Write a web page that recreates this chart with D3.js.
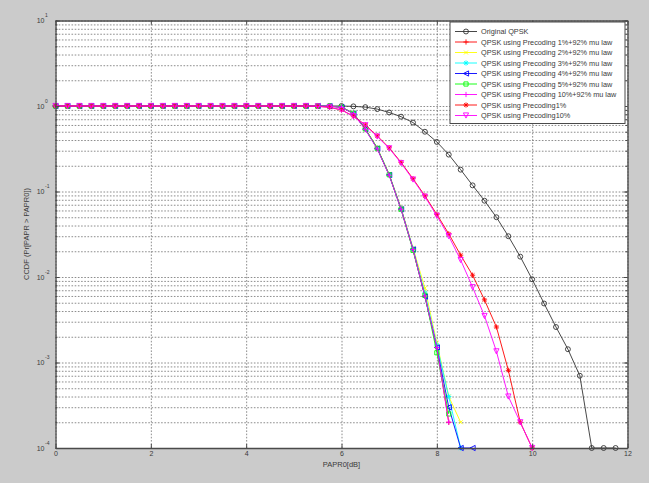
<!DOCTYPE html>
<html>
<head>
<meta charset="utf-8">
<script src="https://cdn.jsdelivr.net/npm/d3@7"></script>
<style>
  html, body { margin: 0; padding: 0; background: #cbcbcb; }
  svg { display: block; }
  text { font-family: "Liberation Sans", Arial, sans-serif; fill: #3a3a3a; }
</style>
</head>
<body>
<svg id="chart" width="649" height="483"></svg>
<script>
// PAPR0 thresholds in dB (0.25 dB steps)
const papr = [0,0.25,0.5,0.75,1,1.25,1.5,1.75,2,2.25,2.5,2.75,3,3.25,3.5,3.75,4,4.25,4.5,4.75,
  5,5.25,5.5,5.75,6,6.25,6.5,6.75,7,7.25,7.5,7.75,8,8.25,8.5,8.75,9,9.25,9.5,9.75,
  10,10.25,10.5,10.75,11,11.25,11.5,11.75,12];

// CCDF values, one array per scheme (missing tail = probability 0, not drawn on a log axis)
const ccdfOriginal = [1,1,1,1,1, 1,1,1,1,1, 1,1,1,1,1, 1,1,1,1,1, 1,1,1,1,1,
  0.99,0.97,0.92,0.84,0.75,0.64,0.50,0.38,0.27,0.18,0.118,0.078,0.050,0.030,0.0173,0.0094,
  0.0049,0.0026,0.00143,0.0007,0.0001,0.0001,0.0001];
const ccdfPre1Mu = [1,1,1,1,1, 1,1,1,1,1, 1,1,1,1,1, 1,1,1,1,1, 1,1,1,
  0.995,0.97,0.82,0.54,0.32,0.157,0.063,0.021,0.0060,0.0015,0.0002];
const ccdfPre2Mu = [1,1,1,1,1, 1,1,1,1,1, 1,1,1,1,1, 1,1,1,1,1, 1,1,1,
  0.995,0.97,0.82,0.545,0.325,0.16,0.064,0.022,0.0074,0.0017,0.0004,0.0002];
const ccdfPre3Mu = [1,1,1,1,1, 1,1,1,1,1, 1,1,1,1,1, 1,1,1,1,1, 1,1,1,
  0.995,0.97,0.82,0.54,0.32,0.158,0.063,0.0215,0.0065,0.0016,0.0004,0.0001];
const ccdfPre4Mu = [1,1,1,1,1, 1,1,1,1,1, 1,1,1,1,1, 1,1,1,1,1, 1,1,1,
  0.995,0.97,0.815,0.535,0.318,0.156,0.062,0.021,0.0059,0.0015,0.0003,0.0001,0.0001];
const ccdfPre5Mu = [1,1,1,1,1, 1,1,1,1,1, 1,1,1,1,1, 1,1,1,1,1, 1,1,1,
  0.995,0.97,0.82,0.54,0.32,0.157,0.062,0.0205,0.0061,0.0013,0.00025];
const ccdfPre10Mu = [1,1,1,1,1, 1,1,1,1,1, 1,1,1,1,1, 1,1,1,1,1, 1,1,1,
  0.995,0.965,0.81,0.53,0.315,0.155,0.062,0.021,0.006,0.0015,0.0002];
const ccdfPre1 = [1,1,1,1,1, 1,1,1,1,1, 1,1,1,1,1, 1,1,1,1,1, 1,1,
  0.99,0.966,0.90,0.76,0.60,0.447,0.324,0.219,0.141,0.089,0.054,0.032,0.018,0.0105,0.0054,
  0.0026,0.00081,0.0002,0.0001];
const ccdfPre10 = [1,1,1,1,1, 1,1,1,1,1, 1,1,1,1,1, 1,1,1,1,1, 1,1,
  0.99,0.966,0.90,0.755,0.595,0.44,0.32,0.215,0.138,0.087,0.052,0.030,0.0158,0.0076,0.0035,
  0.00135,0.0004,0.0002,0.0001];

const seriesNames = [
  "Original QPSK",
  "QPSK using Precoding 1%+92% mu law",
  "QPSK using Precoding 2%+92% mu law",
  "QPSK using Precoding 3%+92% mu law",
  "QPSK using Precoding 4%+92% mu law",
  "QPSK using Precoding 5%+92% mu law",
  "QPSK using Precoding 10%+92% mu law",
  "QPSK using Precoding1%",
  "QPSK using Precoding10%"
];
const seriesValues = [ccdfOriginal, ccdfPre1Mu, ccdfPre2Mu, ccdfPre3Mu, ccdfPre4Mu,
  ccdfPre5Mu, ccdfPre10Mu, ccdfPre1, ccdfPre10];
const seriesColors = ["#333333", "#ff0000", "#ffff00", "#00ffff", "#0000ff",
  "#00ff00", "#ff00ff", "#ff0000", "#ff00ff"];
const seriesMarkers = ["o", "+", "x", "*", "<", "s", "+", "*", "v"];

const xTicks = [0, 2, 4, 6, 8, 10, 12];
const yTicks = [1e-4, 1e-3, 1e-2, 1e-1, 1, 10];
const yExponents = ["-4", "-3", "-2", "-1", "0", "1"];

// ---- layout ----
const svg = d3.select("#chart");
const plot = { left: 55.5, top: 20.5, right: 627.5, bottom: 448 };
const W = plot.right - plot.left, H = plot.bottom - plot.top;

const x = d3.scaleLinear().domain([0, 12]).range([plot.left, plot.right]);
const y = d3.scaleLog().domain([1e-4, 10]).range([plot.bottom, plot.top]);

// white axes background
svg.append("rect")
  .attr("x", plot.left).attr("y", plot.top)
  .attr("width", W).attr("height", H)
  .attr("fill", "#ffffff");

// minor + major log grid
const minorY = [];
for (let e = -4; e < 1; e++) for (let m = 1; m <= 9; m++) minorY.push(m * Math.pow(10, e));
minorY.push(10);

const gridStyle = g => g.call(s => s.select(".domain").remove())
  .selectAll(".tick line")
  .attr("stroke", "#707070").attr("stroke-width", 0.8)
  .attr("stroke-dasharray", "1.6,1.6");

svg.append("g")
  .attr("transform", `translate(${plot.left},0)`)
  .call(d3.axisLeft(y).tickValues(minorY).tickSize(-W).tickFormat(""))
  .call(gridStyle);
svg.append("g")
  .attr("transform", `translate(0,${plot.bottom})`)
  .call(d3.axisBottom(x).tickValues(xTicks).tickSize(-H).tickFormat(""))
  .call(gridStyle);

// ---- series ----
function markerPath(type, s) {
  switch (type) {
    case "+": return `M${-s},0H${s}M0,${-s}V${s}`;
    case "x": { const t = s * 0.75; return `M${-t},${-t}L${t},${t}M${-t},${t}L${t},${-t}`; }
    case "*": { const t = s * 0.72; return `M${-s},0H${s}M0,${-s}V${s}M${-t},${-t}L${t},${t}M${-t},${t}L${t},${-t}`; }
    case "<": return `M${-s},0L${s},${-s}L${s},${s}Z`;
    case "v": return `M${-s},${-s}L${s},${-s}L0,${s}Z`;
    case "s": { const t = s * 0.8; return `M${-t},${-t}H${t}V${t}H${-t}Z`; }
    default: return d3.symbol(d3.symbolCircle, Math.PI * s * s * 0.9)();
  }
}

const line = d3.line().x(d => x(d[0])).y(d => y(d[1]));
const markSize = 2.6;

seriesValues.forEach((vals, k) => {
  const pts = vals.map((v, i) => [papr[i], v]).filter(d => d[1] != null && d[1] > 0);
  const g = svg.append("g");
  g.append("path")
    .attr("d", line(pts))
    .attr("fill", "none")
    .attr("stroke", seriesColors[k])
    .attr("stroke-width", 0.9);
  g.selectAll("path.mk").data(pts).join("path")
    .attr("class", "mk")
    .attr("transform", d => `translate(${x(d[0])},${y(d[1])})`)
    .attr("d", markerPath(seriesMarkers[k], markSize))
    .attr("fill", "none")
    .attr("stroke", seriesColors[k])
    .attr("stroke-width", 0.9);
});

// ---- axes (box with inward ticks) ----
const axisColor = "#4a4a4a";
const styleAxis = g => {
  g.select(".domain").attr("stroke", axisColor).attr("stroke-width", 1.3);
  g.selectAll(".tick line").attr("stroke", axisColor);
};

const xAxis = svg.append("g")
  .attr("transform", `translate(0,${plot.bottom})`)
  .call(d3.axisBottom(x).tickValues(xTicks).tickSize(-4).tickSizeOuter(0).tickFormat(d3.format("d")))
  .call(styleAxis);
xAxis.selectAll(".tick text")
  .attr("y", 3).attr("dy", "0.71em")
  .style("font-size", "7px").style("font-family", "Liberation Sans, Arial, sans-serif")
  .attr("fill", "#3a3a3a");

svg.append("g")
  .attr("transform", `translate(0,${plot.top})`)
  .call(d3.axisTop(x).tickValues(xTicks).tickSize(-4).tickSizeOuter(0).tickFormat(""))
  .call(styleAxis);

const yAxis = svg.append("g")
  .attr("transform", `translate(${plot.left},0)`)
  .call(d3.axisLeft(y).tickValues(yTicks).tickSize(-4).tickSizeOuter(0).tickFormat(""))
  .call(styleAxis);
yAxis.selectAll(".tick").each(function(d, i) {
  d3.select(this).append("text")
    .attr("x", -11).attr("y", 0).attr("dy", "0.35em")
    .attr("text-anchor", "end")
    .style("font-size", "7px")
    .attr("fill", "#3a3a3a")
    .text("10");
  d3.select(this).append("text")
    .attr("x", -10.5).attr("y", -4)
    .attr("text-anchor", "start")
    .style("font-size", "5px")
    .attr("fill", "#3a3a3a")
    .text(yExponents[i]);
});
// minor ticks on left / right
svg.append("g")
  .attr("transform", `translate(${plot.left},0)`)
  .call(d3.axisLeft(y).tickValues(minorY).tickSize(-2).tickSizeOuter(0).tickFormat(""))
  .call(g => g.select(".domain").remove())
  .selectAll(".tick line").attr("stroke", axisColor);

svg.append("g")
  .attr("transform", `translate(${plot.right},0)`)
  .call(d3.axisRight(y).tickValues(yTicks).tickSize(-4).tickSizeOuter(0).tickFormat(""))
  .call(styleAxis);
svg.append("g")
  .attr("transform", `translate(${plot.right},0)`)
  .call(d3.axisRight(y).tickValues(minorY).tickSize(-2).tickSizeOuter(0).tickFormat(""))
  .call(g => g.select(".domain").remove())
  .selectAll(".tick line").attr("stroke", axisColor);

// axis titles
svg.append("text")
  .attr("x", x(6)).attr("y", 467)
  .attr("text-anchor", "middle")
  .style("font-size", "7.5px")
  .text("PAPR0[dB]");
svg.append("text")
  .attr("transform", "translate(29,234) rotate(-90)")
  .attr("text-anchor", "middle")
  .style("font-size", "7.5px")
  .text("CCDF (Pr[PAPR > PAPR0])");

// ---- legend ----
const leg = { x: 450, y: 22, w: 175, rowH: 10.5, first: 31.5 };
const legend = svg.append("g");
legend.append("rect")
  .attr("x", leg.x).attr("y", leg.y)
  .attr("width", leg.w).attr("height", leg.first - leg.y + leg.rowH * (seriesNames.length - 1) + 8)
  .attr("fill", "#ffffff").attr("stroke", "#4a4a4a").attr("stroke-width", 1);

const rows = legend.selectAll("g.row").data(seriesNames).join("g")
  .attr("class", "row")
  .attr("transform", (d, i) => `translate(${leg.x},${leg.first + i * leg.rowH})`);
rows.append("line")
  .attr("x1", 5).attr("x2", 27).attr("y1", 0).attr("y2", 0)
  .attr("stroke", (d, i) => seriesColors[i]).attr("stroke-width", 0.9);
rows.append("path")
  .attr("transform", "translate(16,0)")
  .attr("d", (d, i) => markerPath(seriesMarkers[i], markSize))
  .attr("fill", "none")
  .attr("stroke", (d, i) => seriesColors[i]).attr("stroke-width", 0.9);
rows.append("text")
  .attr("x", 31).attr("y", 0).attr("dy", "0.35em")
  .style("font-size", "7.3px")
  .text(d => d);
</script>
</body>
</html>
